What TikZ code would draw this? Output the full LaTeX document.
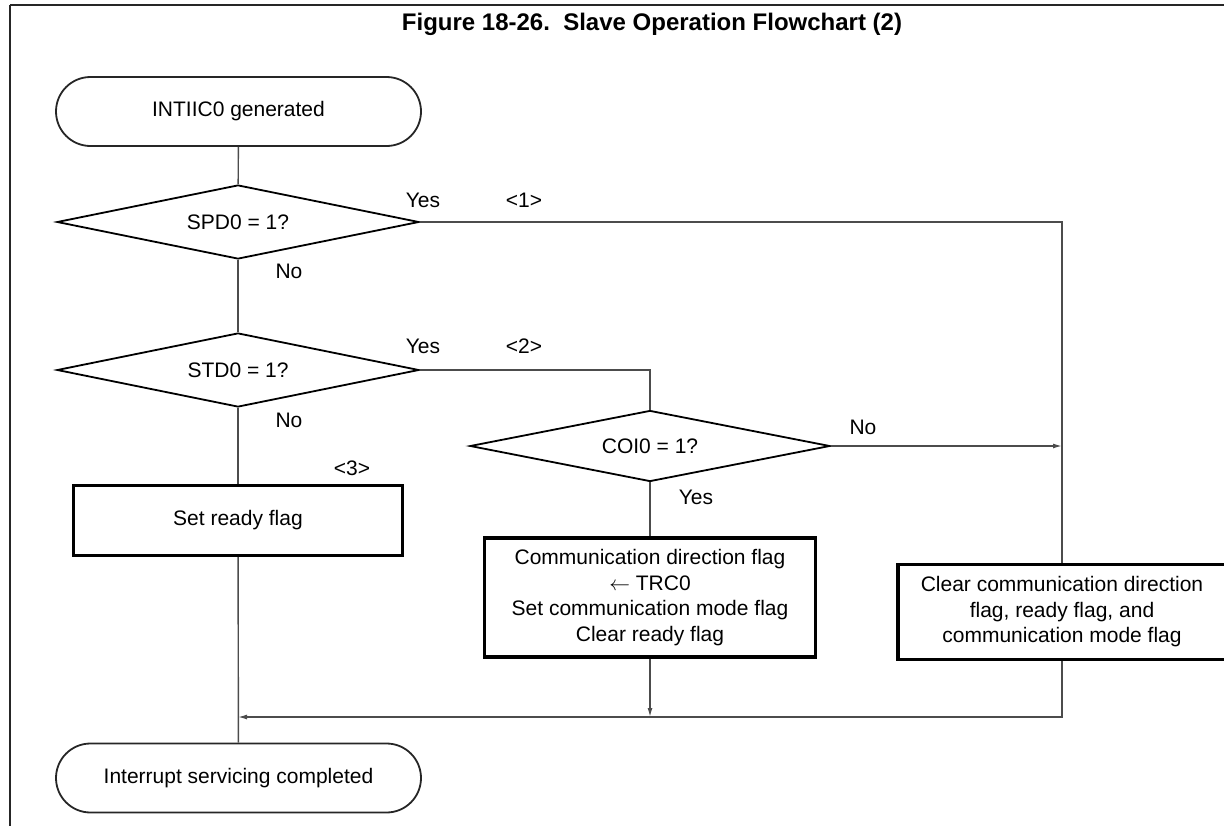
\documentclass[tikz,border=0pt]{standalone}
\usepackage{fontspec}
\setmainfont{Liberation Sans}
\usetikzlibrary{shapes.geometric,shapes.misc,arrows.meta}
\begin{document}
\begin{tikzpicture}[x=1pt,y=-1pt,
  every node/.style={font=\fontsize{21}{25.5}\selectfont},
  term/.style={rounded rectangle, draw=black!85, line width=1.8pt,
    minimum width=365pt, minimum height=69pt, inner sep=0pt},
  decision/.style={diamond, draw=black, line width=1.8pt, aspect=5,
    inner sep=0pt},
  procbox/.style={rectangle, draw=black, line width=3.2pt, align=center,
    inner sep=0pt},
  flow/.style={draw=black!70, line width=1.4pt},
  arr/.style={flow, -{Latex[length=9pt,width=5pt]}},
  lbl/.style={inner sep=0pt},
  frame/.style={draw=black!85}]
\useasboundingbox (0,0) rectangle (1224,825);

% outer frame: top rule and left rule only
\draw[frame, line width=2.6pt] (10,5) -- (1226,5);
\draw[frame, line width=1.6pt] (10,5) -- (10,826);

% title
\node[lbl, font=\fontsize{24}{28}\selectfont\bfseries] (title) at (652,24)
  {Figure 18-26.\ \ Slave Operation Flowchart (2)};

% terminals
\node[term] (start) at (238.5,111.5) {INTIIC0 generated};
\node[term] (stop)  at (238.5,778)   {Interrupt servicing completed};

% decisions
\node[decision, minimum width=362pt, minimum height=74pt] (d1) at (238,222) {SPD0 = 1?};
\node[decision, minimum width=362pt, minimum height=74pt] (d2) at (238,370) {STD0 = 1?};
\node[decision, minimum width=360pt, minimum height=71pt] (d3) at (650,446) {COI0 = 1?};

% processing boxes
\node[procbox, minimum width=329pt, minimum height=70pt] (b1) at (238,520.5) {Set ready flag};
\node[procbox, minimum width=331pt, minimum height=119pt] (b2) at (650,597.5)
  {Communication direction flag\\$\leftarrow$ TRC0\\Set communication mode flag\\Clear ready flag};
\node[procbox, minimum width=328pt, minimum height=95pt] (b3) at (1062,612)
  {Clear communication direction\\flag, ready flag, and\\communication mode flag};

% junction points
\coordinate (j3) at (1062,446);
\coordinate (mR) at (1062,717);
\coordinate (mL) at (238,717);

% connectors
\draw[flow] (start) -- (d1);
\draw[flow] (d1) -- (d2);
\draw[flow] (d2) -- (b1);
\draw[flow] (b1) -- (stop);
\draw[flow] (d1.east) -| (b3.north);
\draw[flow] (d2.east) -| (d3.north);
\draw[flow] (d3) -- (b2);
\draw[arr] (d3.east) -- (j3);
\draw[arr] (b3.south) |- (mL);
\draw[arr] (b2.south) -- (b2.south |- mR);

% branch labels
\node[lbl] (y1) at (423,200) {Yes};
\node[lbl] (n1) at (524,200) {<1>};
\node[lbl] (no1) at (289,271) {No};
\node[lbl] (y2) at (423,346) {Yes};
\node[lbl] (n2) at (524,346) {<2>};
\node[lbl] (no2) at (289,420) {No};
\node[lbl] (n3) at (352,468) {<3>};
\node[lbl] (no3) at (863,427) {No};
\node[lbl] (y3) at (696,497) {Yes};
\end{tikzpicture}
\end{document}
